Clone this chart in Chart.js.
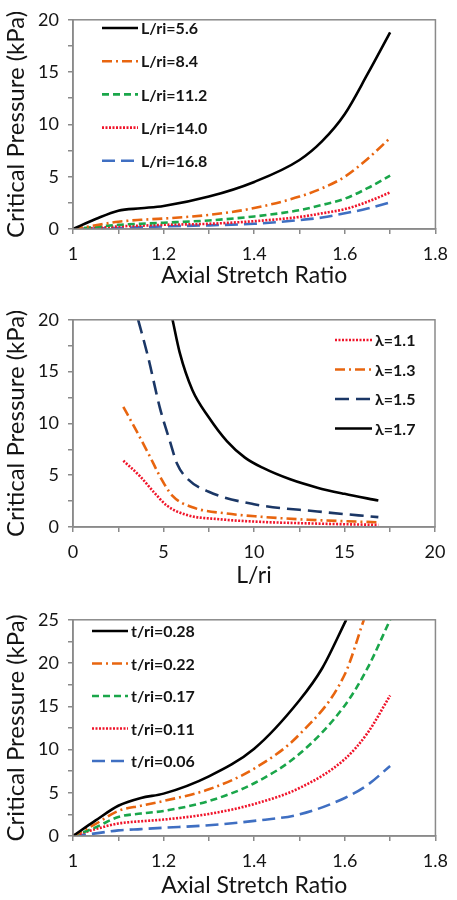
<!DOCTYPE html>
<html>
<head>
<meta charset="utf-8">
<script src="https://cdn.jsdelivr.net/npm/chart.js@4.4.1/dist/chart.umd.min.js"></script>
<style>
  body { margin: 0; background: #fff; }
  .box { position: absolute; left: 0; width: 457px; height: 300px; }
</style>
</head>
<body>
<div class="box" style="top:0"><canvas id="c1"></canvas></div>
<div class="box" style="top:300px"><canvas id="c2"></canvas></div>
<div class="box" style="top:600px"><canvas id="c3"></canvas></div>
<script>
// ---- chart 1: critical pressure vs axial stretch, by L/ri ----
var stretchX1 = [1.0, 1.05, 1.1, 1.15, 1.2, 1.3, 1.4, 1.5, 1.55, 1.6, 1.65, 1.7];
var lr56  = [0, 0.95, 1.75, 1.98, 2.2, 3.1, 4.5, 6.6, 8.4, 11.0, 14.8, 18.8];
var lr84  = [0, 0.35, 0.7, 0.88, 1.0, 1.35, 2.0, 3.1, 3.9, 5.0, 6.7, 8.7];
var lr112 = [0, 0.2, 0.4, 0.5, 0.6, 0.82, 1.2, 1.8, 2.3, 2.9, 3.9, 5.1];
var lr140 = [0, 0.1, 0.25, 0.32, 0.4, 0.5, 0.75, 1.15, 1.5, 1.9, 2.6, 3.5];
var lr168 = [0, 0.05, 0.1, 0.18, 0.25, 0.35, 0.5, 0.85, 1.1, 1.5, 1.95, 2.55];
var labels1 = ['L/ri=5.6', 'L/ri=8.4', 'L/ri=11.2', 'L/ri=14.0', 'L/ri=16.8'];

// ---- chart 2: critical pressure vs L/ri, by lambda ----
var lrX11 = [2.78, 3.7, 4.45, 5.2, 6.3, 8.1, 10.3, 13, 16.87];
var lam11 = [6.4, 4.9, 3.4, 2.05, 1.15, 0.75, 0.5, 0.35, 0.2];
var lrX13 = [2.78, 3.5, 4.25, 4.8, 5.5, 6.6, 8.5, 10.3, 13, 16.87];
var lam13 = [11.6, 9.3, 6.8, 4.9, 3.0, 1.9, 1.3, 1.0, 0.7, 0.45];
var lrX15 = [3.6, 4.15, 4.8, 5.35, 5.75, 6.3, 7.5, 10, 13.5, 16.87];
var lam15 = [20, 16.4, 11.5, 8.3, 6.1, 4.7, 3.4, 2.2, 1.5, 0.95];
var lrX17 = [5.5, 5.9, 6.6, 7.5, 8.5, 9.5, 10.5, 12, 13.5, 15, 16.87];
var lam17 = [20, 16.8, 13.2, 10.6, 8.3, 6.7, 5.7, 4.6, 3.8, 3.2, 2.55];
var labels2 = ['\u03bb=1.1', '\u03bb=1.3', '\u03bb=1.5', '\u03bb=1.7'];

// ---- chart 3: critical pressure vs axial stretch, by t/ri ----
var tX28 = [1.0, 1.05, 1.1, 1.15, 1.2, 1.3, 1.4, 1.5, 1.55, 1.603];
var t28  = [0, 1.8, 3.5, 4.4, 4.9, 6.9, 10.1, 15.7, 19.4, 25];
var tX22 = [1.0, 1.05, 1.1, 1.15, 1.2, 1.3, 1.4, 1.5, 1.6, 1.642];
var t22  = [0, 1.4, 2.9, 3.5, 4.05, 5.4, 7.8, 11.75, 18.7, 25];
var tX   = [1.0, 1.05, 1.1, 1.15, 1.2, 1.3, 1.4, 1.5, 1.6, 1.65, 1.7];
var t17  = [0, 1.0, 2.2, 2.6, 2.9, 4.05, 6.1, 9.5, 15.1, 19.4, 25];
var t11  = [0, 0.8, 1.45, 1.7, 1.9, 2.55, 3.7, 5.55, 8.9, 11.9, 16.25];
var t06  = [0, 0.3, 0.65, 0.8, 0.95, 1.25, 1.75, 2.5, 4.4, 5.9, 8.1];
var labels3 = ['t/ri=0.28', 't/ri=0.22', 't/ri=0.17', 't/ri=0.11', 't/ri=0.06'];

var FONT = 'Lato, "Liberation Sans", sans-serif';
var AXIS = '#8a8a8a';
var TEXT = '#141414';

function pts(xs, ys) {
    var out = [];
    for (var i = 0; i < xs.length; i++) out.push({x: xs[i], y: ys[i]});
    return out;
}

var STYLES = {
    black:  {color: '#000000', dash: []},
    orange: {color: '#e8650f', dash: [10, 4, 2, 4]},
    green:  {color: '#1aa64a', dash: [7, 4]},
    red:    {color: '#f0142a', dash: [2, 1.5]},
    blue:   {color: '#3f6fc2', dash: [13, 6]},
    navy:   {color: '#1b3766', dash: [14, 7]}
};

function ds(label, xs, ys, style) {
    var s = STYLES[style];
    return {
        label: label,
        data: pts(xs, ys),
        borderColor: s.color,
        backgroundColor: s.color,
        borderDash: s.dash,
        borderWidth: 2.6,
        pointRadius: 0,
        cubicInterpolationMode: 'monotone',
        fill: false
    };
}

// box around the plot area
var framePlugin = {
    id: 'frame',
    afterDraw: function (chart) {
        var a = chart.chartArea, ctx = chart.ctx;
        ctx.save();
        ctx.strokeStyle = AXIS;
        ctx.lineWidth = 1.5;
        ctx.strokeRect(a.left, a.top, a.right - a.left, a.bottom - a.top);
        ctx.restore();
    }
};

// legend drawn inside the plot
var insideLegend = {
    id: 'insideLegend',
    afterDraw: function (chart, args, opts) {
        var ctx = chart.ctx;
        ctx.save();
        ctx.font = 'bold 16px ' + FONT;
        ctx.textBaseline = 'middle';
        ctx.fillStyle = TEXT;
        chart.data.datasets.forEach(function (d, i) {
            var y = opts.y + i * opts.step;
            ctx.strokeStyle = d.borderColor;
            ctx.lineWidth = d.borderWidth;
            ctx.setLineDash(d.borderDash);
            ctx.beginPath();
            ctx.moveTo(opts.x, y);
            ctx.lineTo(opts.x + opts.len, y);
            ctx.stroke();
            ctx.setLineDash([]);
            ctx.fillText(d.label, opts.x + opts.len + 3, y + 1);
        });
        ctx.restore();
    }
};

function makeChart(id, datasets, cfg) {
    return new Chart(document.getElementById(id), {
        type: 'line',
        data: {datasets: datasets},
        plugins: [framePlugin, insideLegend],
        options: {
            responsive: true,
            maintainAspectRatio: false,
            animation: false,
            layout: {padding: {top: cfg.top, right: 457 - cfg.right, left: 0, bottom: 0}},
            plugins: {
                legend: {display: false},
                tooltip: {enabled: false},
                insideLegend: cfg.legend
            },
            scales: {
                x: {
                    type: 'linear',
                    min: cfg.xmin, max: cfg.xmax,
                    afterFit: function (s) { s.height = 300 - cfg.bottom; },
                    border: {color: AXIS, width: 1.5},
                    grid: {drawOnChartArea: false, drawTicks: true, tickLength: 5, tickColor: AXIS, lineWidth: 1.5},
                    ticks: {
                        stepSize: cfg.xstep,
                        autoSkip: false,
                        maxRotation: 0,
                        padding: 9,
                        color: TEXT,
                        font: {family: FONT, size: 18},
                        callback: cfg.xlab
                    },
                    title: {
                        display: true, text: cfg.xtitle, color: TEXT,
                        font: {family: FONT, size: 23}, padding: {top: 0, bottom: cfg.titlePad}
                    }
                },
                y: {
                    min: 0, max: cfg.ymax,
                    afterFit: function (s) { s.width = 73; },
                    border: {color: AXIS, width: 1.5},
                    grid: {drawOnChartArea: false, drawTicks: true, tickLength: 5, tickColor: AXIS, lineWidth: 1.5},
                    ticks: {
                        stepSize: 2.5,
                        autoSkip: false,
                        padding: 9,
                        color: TEXT,
                        font: {family: FONT, size: 18},
                        callback: function (v) { return v % 5 === 0 ? String(v) : ''; }
                    },
                    title: {
                        display: true, text: 'Critical Pressure (kPa)', color: TEXT,
                        font: {family: FONT, size: 24}, padding: {top: 2, bottom: 0}
                    }
                }
            }
        }
    });
}

function stretchLabel(v) {
    var t = Math.round(v * 10);
    return t % 2 === 0 ? String(t / 10) : '';
}

makeChart('c1', [
    ds(labels1[0], stretchX1, lr56, 'black'),
    ds(labels1[1], stretchX1, lr84, 'orange'),
    ds(labels1[2], stretchX1, lr112, 'green'),
    ds(labels1[3], stretchX1, lr140, 'red'),
    ds(labels1[4], stretchX1, lr168, 'blue')
], {
    top: 12, right: 440, bottom: 229, xmin: 1, xmax: 1.8, xstep: 0.1, ymax: 20,
    xlab: stretchLabel, xtitle: 'Axial Stretch Ratio', titlePad: 11,
    legend: {x: 102, y: 28, step: 33.2, len: 36}
});

makeChart('c2', [
    ds(labels2[0], lrX11, lam11, 'red'),
    ds(labels2[1], lrX13, lam13, 'orange'),
    ds(labels2[2], lrX15, lam15, 'navy'),
    ds(labels2[3], lrX17, lam17, 'black')
], {
    top: 14, right: 435, bottom: 227, xmin: 0, xmax: 20, xstep: 2.5, ymax: 20,
    xlab: function (v) { return v % 5 === 0 ? String(v) : ''; }, xtitle: 'L/ri', titlePad: 11,
    legend: {x: 335, y: 40, step: 29.5, len: 37}
});

makeChart('c3', [
    ds(labels3[0], tX28, t28, 'black'),
    ds(labels3[1], tX22, t22, 'orange'),
    ds(labels3[2], tX, t17, 'green'),
    ds(labels3[3], tX, t11, 'red'),
    ds(labels3[4], tX, t06, 'blue')
], {
    top: 14, right: 438, bottom: 236, xmin: 1, xmax: 1.8, xstep: 0.1, ymax: 25,
    xlab: stretchLabel, xtitle: 'Axial Stretch Ratio', titlePad: 1,
    legend: {x: 92, y: 31, step: 32.5, len: 36}
});
</script>
</body>
</html>
